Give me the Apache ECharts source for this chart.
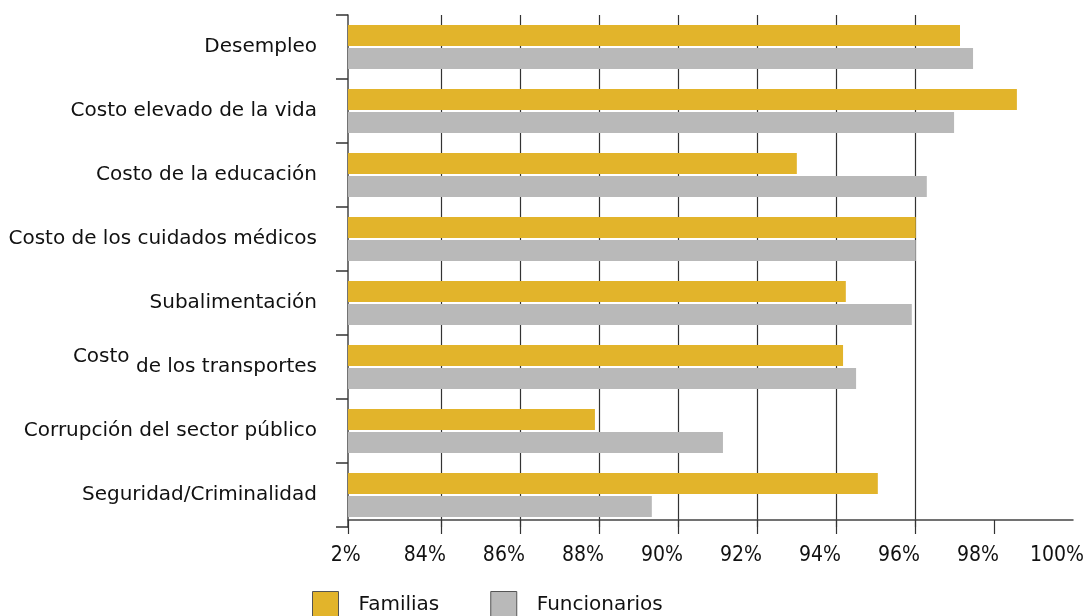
<!DOCTYPE html>
<html>
<head>
<meta charset="utf-8">
<script src="https://cdn.jsdelivr.net/npm/echarts@6/dist/echarts.min.js"></script>
<style>
html,body{margin:0;padding:0;background:#fff;}
#chart{width:1085px;height:616px;}
</style>
</head>
<body>
<div id="chart"></div>
<script>
var categories = [
  'Desempleo',
  'Costo elevado de la vida',
  'Costo de la educación',
  'Costo de los cuidados médicos',
  'Subalimentación',
  'Costo de los transportes',
  'Corrupción del sector público',
  'Seguridad/Criminalidad'
];
var raisedPrefix = { 'Costo de los transportes': 'Costo' };
var familias =     [97.14, 98.58, 93.01, 96.02, 94.25, 94.18, 87.90, 95.06];
var funcionarios = [97.47, 96.99, 96.30, 96.02, 95.92, 94.51, 91.14, 89.34];
var tickValues = [82, 84, 86, 88, 90, 92, 94, 96, 98, 100];
var tickLabels = ['2%', '84%', '86%', '88%', '90%', '92%', '94%', '96%', '98%', '100%'];
var gridValues = [84, 86, 88, 90, 92, 94, 96, 98];
var axisMin = 81.65, axisMax = 100;

var FONT = 'DejaVu Sans';
var TICKFONT = '"Liberation Sans Narrow", "DejaVu Sans Condensed", "DejaVu Sans"';
var chart = echarts.init(document.getElementById('chart'));
chart.setOption({
  animation: false,
  textStyle: { fontFamily: FONT },
  grid: { left: 348, right: 12, top: 15, height: 512, containLabel: false, outerBoundsMode: 'none' },
  legend: {
    left: 312, top: 591, padding: 0,
    itemWidth: 26, itemHeight: 26, itemGap: 51,
    icon: 'rect',
    itemStyle: { borderColor: '#555', borderWidth: 1 },
    textStyle: { fontSize: 20, color: '#111', fontFamily: FONT, padding: [6, 0, 0, 15] },
    data: ['Familias', 'Funcionarios']
  },
  xAxis: {
    type: 'value', min: axisMin, max: axisMax,
    offset: -7,
    axisLine: { show: true, lineStyle: { color: '#444', width: 1.5 } },
    axisTick: { show: true, length: 14, customValues: [axisMin].concat(gridValues),
      lineStyle: { color: '#333', width: 1.2 } },
    axisLabel: {
      customValues: tickValues,
      margin: 25, fontSize: 21, color: '#111', fontFamily: TICKFONT,
      padding: [0, 32, 0, 0],
      formatter: function (v) { return tickLabels[tickValues.indexOf(Math.round(v))]; }
    },
    splitLine: { show: true, showMinLine: false, showMaxLine: false, lineStyle: { color: '#333', width: 1.2 } }
  },
  yAxis: {
    type: 'category', data: categories, inverse: true,
    axisLine: { show: true, lineStyle: { color: '#444', width: 1.5 } },
    axisTick: { show: true, length: 12, lineStyle: { color: '#333', width: 1.5 } },
    axisLabel: {
      margin: 31, fontSize: 20, color: '#111', fontFamily: FONT,
      formatter: function (v) {
        var p = raisedPrefix[v];
        if (p && v.indexOf(p) === 0) {
          return '{up|' + p + '}{n|' + v.slice(p.length) + '}';
        }
        return v;
      },
      rich: {
        up: { fontSize: 20, fontFamily: FONT, color: '#111', padding: [0, 0, 20, 0] },
        n: { fontSize: 20, fontFamily: FONT, color: '#111' }
      }
    }
  },
  series: [
    { name: 'Familias', type: 'bar', data: familias, barWidth: 21, barGap: '10%',
      itemStyle: { color: '#E2B42B' } },
    { name: 'Funcionarios', type: 'bar', data: funcionarios, barWidth: 21,
      itemStyle: { color: '#B9B9B9' } }
  ]
});
</script>
</body>
</html>
